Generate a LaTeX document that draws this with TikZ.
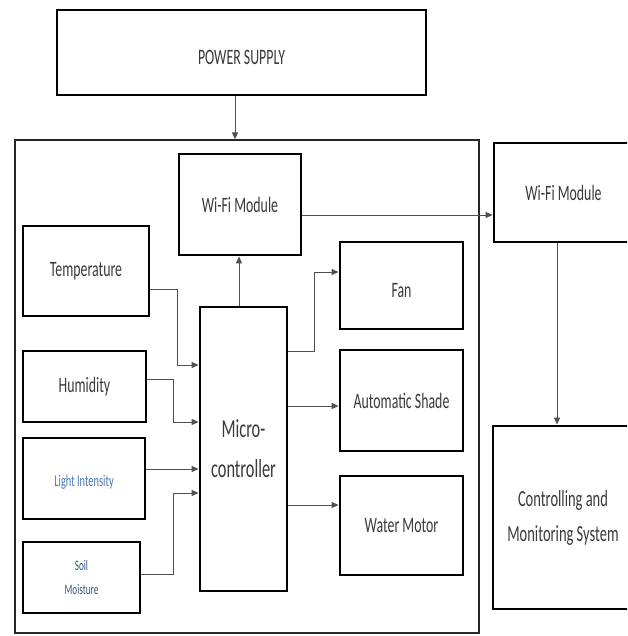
\documentclass[tikz,border=0pt]{standalone}
\usepackage{fontspec}
\setmainfont{Carlito}[FakeStretch=0.63]
\usetikzlibrary{arrows.meta}
\definecolor{txt}{HTML}{3A3A3A}
\definecolor{ln}{HTML}{505050}
\definecolor{blu}{HTML}{4A78B0}
\newcommand{\dn}[2]{\raisebox{-#1}[\height][\depth]{#2}}
\begin{document}
\begin{tikzpicture}[x=1pt,y=-1pt,
  blk/.style={draw=black,line width=2.8pt,rectangle,inner sep=0pt,text=txt,align=center,font=\fontsize{22}{26}\selectfont},
  frame/.style={draw=black!85,line width=1.3pt,rectangle,inner sep=0pt},
  conn/.style={draw=ln,line width=1pt},
  arr/.style={conn,-{Triangle[length=7pt,width=6pt]}}]
\useasboundingbox (0,0) rectangle (627,636);
\clip (0,0) rectangle (627,636);
\fill[white] (0,0) rectangle (627,636);
% outer board
\node[frame,minimum width=464pt,minimum height=493pt] (board) at (247,386.5) {};
% blocks
\node[blk,minimum width=369pt,minimum height=85pt] (power) at (241.5,52.5) {\dn{5pt}{POWER SUPPLY}};
\node[blk,minimum width=122pt,minimum height=101pt] (wifi1) at (240,204.5) {Wi-Fi Module};
\node[blk,minimum width=126pt,minimum height=90pt] (temp) at (86,271) {Temperature};
\node[blk,minimum width=123pt,minimum height=71pt] (hum) at (84.5,386.5) {Humidity};
\node[blk,minimum width=122pt,minimum height=81pt,text=blu,font=\fontsize{16.5}{20}\selectfont] (light) at (84,478.5) {\dn{4pt}{Light Intensity}};
\node[blk,minimum width=117pt,minimum height=71pt,text=blu!70!black,font=\fontsize{14.5}{24}\selectfont] (soil) at (81.5,577.5) {Soil\\Moisture};
\node[blk,minimum width=87pt,minimum height=284pt,font=\fontsize{26}{40}\selectfont] (mcu) at (243.5,449) {Micro-\\controller};
\node[blk,minimum width=123pt,minimum height=87pt] (fan) at (401.5,285.5) {\dn{5pt}{Fan}};
\node[blk,minimum width=123pt,minimum height=101pt] (shade) at (401.5,400.5) {Automatic Shade};
\node[blk,minimum width=123pt,minimum height=99pt] (motor) at (401.5,525.5) {Water Motor};
\node[blk,minimum width=151pt,minimum height=99pt] (wifi2) at (569.5,192.5) {Wi-Fi Module\hspace*{12pt}};
\node[blk,minimum width=152pt,minimum height=183pt,font=\fontsize{23}{35}\selectfont] (ctrl) at (569,517.5) {Controlling and\hspace*{12pt}\\Monitoring System\hspace*{12pt}};
% connectors
\draw[arr] ([xshift=-6.5pt]power.south) -- ([xshift=-6.5pt]power.south |- board.north);
\draw[arr] ([xshift=-4.5pt]mcu.north) -- ([xshift=-4.5pt]mcu.north |- wifi1.south);
\coordinate (w1o) at ([yshift=-10.5pt]wifi1.east);
\draw[arr] (w1o) -- (w1o -| wifi2.west);
\draw[arr] ([xshift=-12.5pt]wifi2.south) -- ([xshift=-12.5pt]wifi2.south |- ctrl.north);
\draw[arr] ([yshift=-18pt]temp.east) -- ++(27,0) |- ([yshift=84pt]mcu.west);
\draw[arr] ([yshift=7.5pt]hum.east) -- ++(26,0) |- ([yshift=27pt]mcu.west);
\draw[arr] ([yshift=9.5pt]light.east) -- ([yshift=-20pt]mcu.west);
\draw[arr] ([yshift=3.5pt]soil.east) -- ++(32,0) |- ([yshift=-44pt]mcu.west);
\draw[arr] ([yshift=98pt]mcu.east) -- ++(26,0) |- ([yshift=13.5pt]fan.west);
\draw[arr] ([yshift=43pt]mcu.east) -- ([yshift=-5.5pt]shade.west);
\draw[arr] ([yshift=-56pt]mcu.east) -- ([yshift=20.5pt]motor.west);
\end{tikzpicture}
\end{document}
